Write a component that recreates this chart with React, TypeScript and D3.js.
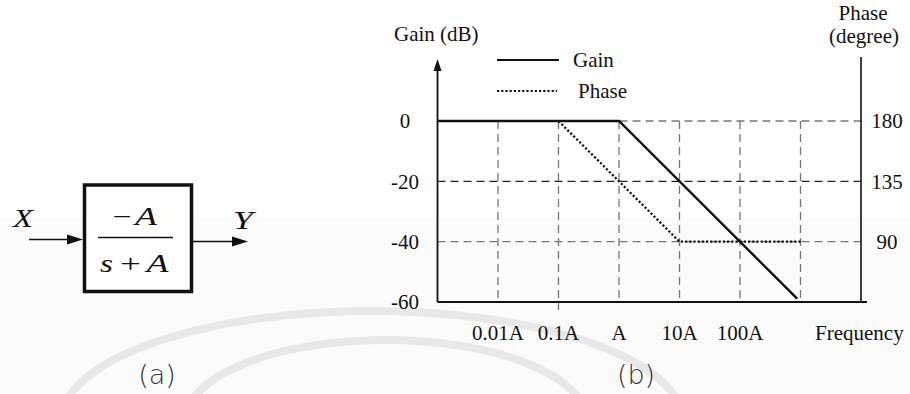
import React from "react";
import * as d3 from "d3";

// Asymptotic Bode plot of -A/(s+A); frequency in multiples of A
const gainFreq = [0.001, 1, 880];
const gainDb = [0, 0, -58.9];
const phaseFreq = [0.1, 10, 1000];
const phaseDeg = [180, 90, 90];

const gridFreq = [0.01, 0.1, 1, 10, 100, 1000];
const freqTicks = [0.01, 0.1, 1, 10, 100];
const freqTickLabels = ["0.01A", "0.1A", "A", "10A", "100A"];
const gainTicks = [0, -20, -40, -60];
const phaseTicks = [180, 135, 90];

const W = 910;
const H = 394;
const SERIF = "'Liberation Serif', 'Times New Roman', serif";
const FS = 21;
const BFS = 25;

export default function App() {
  const x = d3.scaleLog().domain([0.001, 10000]).range([437.5, 861]);
  const yGain = d3.scaleLinear().domain([-60, 0]).range([302, 121]);
  const yPhase = d3.scaleLinear().domain([45, 180]).range([302, 121]);

  const gainLine = d3
    .line<number>()
    .x((d, i) => x(gainFreq[i]))
    .y((d) => yGain(d));
  const phaseLine = d3
    .line<number>()
    .x((d, i) => x(phaseFreq[i]))
    .y((d) => yPhase(d));

  const xL = x.range()[0];
  const xR = x.range()[1];
  const yB = yGain(-60);
  const yTop = yGain(0);

  return (
    <svg
      width={W}
      height={H}
      viewBox={`0 0 ${W} ${H}`}
      style={{ position: "absolute", left: 0, top: 0, background: "#fff" }}
      fontFamily={SERIF}
    >
      <rect x={0} y={218} width={W} height={H - 218} fill="#fbfbfb" />
      {/* faint background arcs */}
      <g fill="none" stroke="#e8e8e8" strokeWidth={8}>
        <path d="M 62 420 A 310 109 0 0 1 682 420" />
        <path d="M 186 420 A 200 80 0 0 1 586 420" />
      </g>

      {/* (a) block diagram */}
      <g>
        <rect x={84.5} y={185} width={107} height={106.5} fill="#fff" stroke="#111" strokeWidth={3.5} />
        <line x1={29} y1={239.5} x2={70} y2={239.5} stroke="#111" strokeWidth={1.6} />
        <path d="M 83 239.5 L 67 234.5 L 67 244.5 Z" fill="#111" />
        <line x1={193} y1={241.5} x2={235} y2={241.5} stroke="#111" strokeWidth={1.6} />
        <path d="M 248 241.5 L 232 236.5 L 232 246.5 Z" fill="#111" />
        <text x={13} y={227} fontSize={BFS} fontStyle="italic" fill="#111" textLength={20} lengthAdjust="spacingAndGlyphs">X</text>
        <text x={233} y={229} fontSize={BFS} fontStyle="italic" fill="#111" textLength={20} lengthAdjust="spacingAndGlyphs">Y</text>
        <line x1={98} y1={237.5} x2={173} y2={237.5} stroke="#111" strokeWidth={1.6} />
        <text x={112.5} y={225} fontSize={BFS} fill="#111" textLength={19} lengthAdjust="spacingAndGlyphs">−</text>
        <text x={135} y={225} fontSize={BFS} fontStyle="italic" fill="#111" textLength={22} lengthAdjust="spacingAndGlyphs">A</text>
        <text x={100} y={272} fontSize={BFS} fontStyle="italic" fill="#111" textLength={13} lengthAdjust="spacingAndGlyphs">s</text>
        <text x={120} y={272} fontSize={BFS} fill="#111" textLength={21} lengthAdjust="spacingAndGlyphs">+</text>
        <text x={146.5} y={272} fontSize={BFS} fontStyle="italic" fill="#111" textLength={22} lengthAdjust="spacingAndGlyphs">A</text>
      </g>

      {/* (b) grid */}
      <g fill="none" strokeWidth={1.3} strokeDasharray="8,5">
        {gainTicks
          .filter((t) => t > -60)
          .map((t) => (
            <line
              key={`h${t}`}
              x1={xL}
              x2={xR}
              y1={yGain(t)}
              y2={yGain(t)}
              stroke={t === -20 ? "#222" : "#777"}
            />
          ))}
        {gridFreq.map((f) => (
          <line
            key={`v${f}`}
            x1={x(f)}
            x2={x(f)}
            y1={yTop}
            y2={f === 0.1 ? yB + 8 : yB}
            stroke="#777"
          />
        ))}
      </g>

      {/* axes */}
      <line x1={xL} y1={yB} x2={xR + 6} y2={yB} stroke="#111" strokeWidth={2} />
      <line x1={xL} y1={yB} x2={xL} y2={68} stroke="#111" strokeWidth={1.8} />
      <path d={`M ${xL} 59 L ${xL - 4} 71 L ${xL + 4} 71 Z`} fill="#111" />
      <line x1={xR} y1={yB} x2={xR} y2={57} stroke="#111" strokeWidth={1.6} />

      {/* curves */}
      <path d={phaseLine(phaseDeg) ?? ""} fill="none" stroke="#111" strokeWidth={2.2} strokeDasharray="2.2,2" />
      <path d={gainLine(gainDb) ?? ""} fill="none" stroke="#111" strokeWidth={2.4} />

      {/* legend */}
      <line x1={497} x2={559} y1={60} y2={60} stroke="#111" strokeWidth={1.8} />
      <text x={573} y={67} fontSize={FS} fill="#111">Gain</text>
      <line x1={497} x2={557} y1={91} y2={91} stroke="#111" strokeWidth={2.2} strokeDasharray="2.2,2" />
      <text x={578} y={98} fontSize={FS} fill="#111">Phase</text>

      {/* axis titles */}
      <text x={394} y={41} fontSize={FS} fill="#111">Gain (dB)</text>
      <text x={863} y={20} fontSize={FS} fill="#111" textAnchor="middle">Phase</text>
      <text x={864} y={43} fontSize={FS} fill="#111" textAnchor="middle">(degree)</text>
      <text x={815} y={340} fontSize={FS} fill="#111">Frequency</text>

      {/* tick labels */}
      {gainTicks.map((t) => (
        <text
          key={`g${t}`}
          x={405}
          y={yGain(t)}
          dy="0.35em"
          fontSize={FS}
          fill="#111"
          textAnchor="middle"
        >
          {t}
        </text>
      ))}
      {phaseTicks.map((t) => (
        <text
          key={`p${t}`}
          x={887}
          y={yPhase(t)}
          dy="0.35em"
          fontSize={FS}
          fill="#111"
          textAnchor="middle"
        >
          {t}
        </text>
      ))}
      {freqTicks.map((f, i) => (
        <text key={`f${f}`} x={x(f)} y={340} fontSize={FS} fill="#111" textAnchor="middle">
          {freqTickLabels[i]}
        </text>
      ))}

      {/* panel captions */}
      <text x={157} y={384} fontSize={27} fill="#333" fontWeight={300} textAnchor="middle" fontFamily="'DejaVu Sans', sans-serif">(a)</text>
      <text x={636} y={384} fontSize={27} fill="#333" fontWeight={300} textAnchor="middle" fontFamily="'DejaVu Sans', sans-serif">(b)</text>
    </svg>
  );
}
